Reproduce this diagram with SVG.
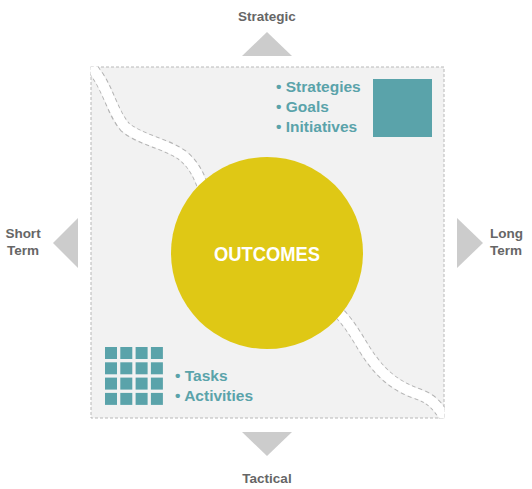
<svg xmlns="http://www.w3.org/2000/svg" width="532" height="489" viewBox="0 0 532 489">
<style>
.lbl{font-family:"Liberation Sans",Arial,sans-serif;font-weight:bold;font-size:13.5px;fill:#666666}
.item{font-family:"Liberation Sans",Arial,sans-serif;font-weight:bold;font-size:15.5px;fill:#5aa3aa}
.tri{fill:#cccccc}
.teal{fill:#5aa3aa}
.bandEdge{fill:none;stroke:#b5b5b5;stroke-width:12;stroke-dasharray:4 3}
.bandFill{fill:none;stroke:#ffffff;stroke-width:10}
</style>
<defs>
<clipPath id="sq"><rect x="90.5" y="66.5" width="354" height="352"/></clipPath>
</defs>
<rect width="532" height="489" fill="#ffffff"/>
<g id="field">
<rect x="91" y="67" width="353" height="351" fill="#f2f2f2" stroke="#b8b8b8" stroke-width="1" stroke-dasharray="3 2"/>
</g>
<g id="connectors" clip-path="url(#sq)">
<path class="bandEdge" d="M86,58 L95,72 C108,88 112,112 125,127 C140,140 165,143 182,155 C195,165 200,178 206,195"/>
<path class="bandFill" d="M86,58 L95,72 C108,88 112,112 125,127 C140,140 165,143 182,155 C195,165 200,178 206,195"/>
<path class="bandEdge" d="M330,305 C352,322 360,345 372,360 C385,378 400,388 418,394 C430,398 437,404 448,422"/>
<path class="bandFill" d="M330,305 C352,322 360,345 372,360 C385,378 400,388 418,394 C430,398 437,404 448,422"/>
</g>
<g id="outcomes">
<circle cx="267" cy="253" r="96" fill="#dfc815"/>
<text x="267" y="261" text-anchor="middle" font-family="Liberation Sans, Arial, sans-serif" font-weight="bold" font-size="21" fill="#ffffff" textLength="106" lengthAdjust="spacingAndGlyphs">OUTCOMES</text>
</g>
<g id="strategic-items">
<rect class="teal" x="373" y="79" width="59" height="58"/>
<text class="item" x="276" y="92">• Strategies</text>
<text class="item" x="276" y="112">• Goals</text>
<text class="item" x="276" y="132">• Initiatives</text>
</g>
<g id="tactical-items">
<g class="teal">
<rect x="105" y="347" width="12" height="12"/><rect x="120.3" y="347" width="12" height="12"/><rect x="135.6" y="347" width="12" height="12"/><rect x="150.9" y="347" width="12" height="12"/>
<rect x="105" y="362.3" width="12" height="12"/><rect x="120.3" y="362.3" width="12" height="12"/><rect x="135.6" y="362.3" width="12" height="12"/><rect x="150.9" y="362.3" width="12" height="12"/>
<rect x="105" y="377.6" width="12" height="12"/><rect x="120.3" y="377.6" width="12" height="12"/><rect x="135.6" y="377.6" width="12" height="12"/><rect x="150.9" y="377.6" width="12" height="12"/>
<rect x="105" y="392.9" width="12" height="12"/><rect x="120.3" y="392.9" width="12" height="12"/><rect x="135.6" y="392.9" width="12" height="12"/><rect x="150.9" y="392.9" width="12" height="12"/>
</g>
<text class="item" x="175" y="381">• Tasks</text>
<text class="item" x="175" y="401">• Activities</text>
</g>
<g id="strategic">
<polygon class="tri" points="267,32 292,56 242,56"/>
<text class="lbl" x="267" y="21" text-anchor="middle">Strategic</text>
</g>
<g id="tactical">
<polygon class="tri" points="242,432 292,432 267,456"/>
<text class="lbl" x="267" y="483" text-anchor="middle">Tactical</text>
</g>
<g id="short-term">
<polygon class="tri" points="78,218 78,268 53,243"/>
<text class="lbl" x="23" y="238" text-anchor="middle">Short</text>
<text class="lbl" x="23" y="255" text-anchor="middle">Term</text>
</g>
<g id="long-term">
<polygon class="tri" points="457,218 483,243 457,268"/>
<text class="lbl" x="490" y="238">Long</text>
<text class="lbl" x="490" y="255">Term</text>
</g>
</svg>
